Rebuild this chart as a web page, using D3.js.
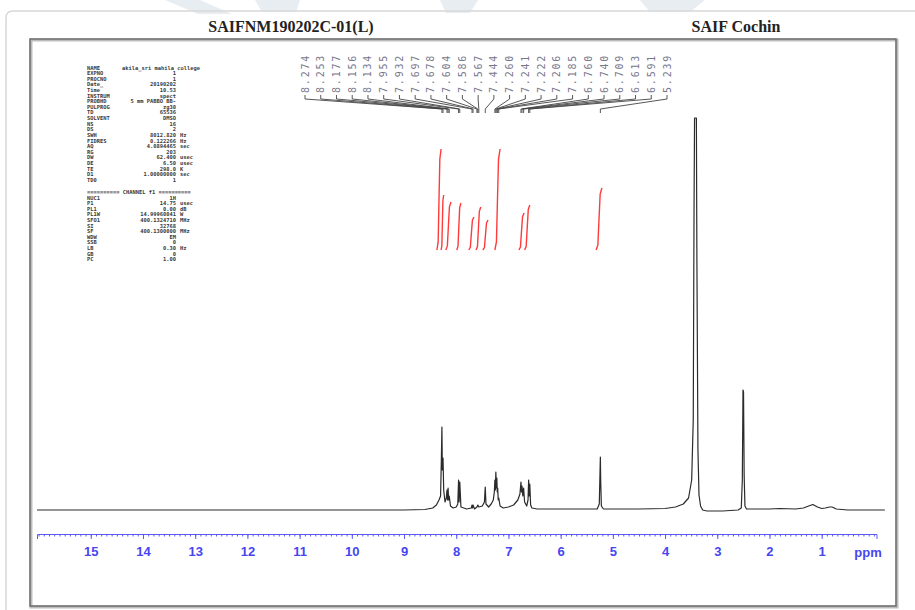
<!DOCTYPE html>
<html>
<head>
<meta charset="utf-8">
<script src="https://cdn.jsdelivr.net/npm/d3@7"></script>
<style>
  body { margin: 0; background: #fff; }
  svg { display: block; }
  .title { font-family: 'Liberation Serif', 'Times New Roman', serif; font-weight: bold; font-size: 16px; fill: #222; }
  .ppm-axis text { font-family: 'Liberation Sans', Arial, sans-serif; font-weight: bold; font-size: 13px; fill: #4646f0; }
  .ppm-axis line, .ppm-axis path { stroke: #5a5af5; }
  .peak-label { font-family: 'DejaVu Sans Mono', monospace; font-size: 10px; fill: #77778a; letter-spacing: 1.8px; }
  .param { font-family: 'DejaVu Sans Mono', monospace; font-size: 5.4px; fill: #3a3a3a; font-weight: bold; }
</style>
</head>
<body>
<div class="nmr-container"></div>
<script>
//Data
//peak pick labels (ppm)
const peakLabels = [8.274, 8.253, 8.177, 8.156, 8.134, 7.955, 7.932, 7.697, 7.678, 7.604, 7.586, 7.567,
                    7.444, 7.260, 7.241, 7.222, 7.206, 7.185, 6.760, 6.740, 6.709, 6.613, 6.591, 5.239];

//spectrum trace: [ppm, intensity]
const tracePpm = [16.03, 12.0, 9.0, 8.6, 8.45, 8.38, 8.33, 8.30, 8.285, 8.274, 8.266, 8.253, 8.24, 8.215, 8.19, 8.177,
                  8.166, 8.156, 8.145, 8.134, 8.11, 8.06, 8.0, 7.97, 7.955, 7.945, 7.932, 7.91, 7.80, 7.71, 7.697, 7.688,
                  7.678, 7.65, 7.604, 7.586, 7.567, 7.50, 7.46, 7.444, 7.43, 7.38, 7.33, 7.29, 7.27, 7.260, 7.25, 7.241,
                  7.232, 7.222, 7.214, 7.206, 7.195, 7.185, 7.16, 7.10, 7.0, 6.9, 6.82, 6.78, 6.760, 6.75, 6.740, 6.725,
                  6.709, 6.69, 6.65, 6.625, 6.613, 6.602, 6.591, 6.575, 6.55, 6.45, 6.2, 5.6, 5.30, 5.26, 5.245, 5.239,
                  5.233, 5.22, 5.18, 4.5, 4.0, 3.8, 3.65, 3.55, 3.49, 3.46, 3.445, 3.435, 3.40, 3.39, 3.37, 3.35,
                  3.32, 3.28, 3.2, 2.9, 2.6, 2.54, 2.52, 2.507, 2.497, 2.485, 2.47, 2.44, 2.0, 1.8, 1.5, 1.35,
                  1.25, 1.17, 1.08, 1.0, 0.93, 0.85, 0.80, 0.72, 0.5, -0.21];
const traceInt = [0, 0, 0, 0.5, 2, 5, 10, 14, 50, 83, 40, 52, 20, 8, 12, 20,
                  10, 22, 10, 14, 4, 2, 3, 6, 30, 8, 28, 3, 1, 2, 5, 2,
                  5, 1, 3, 5, 3, 4, 8, 23, 6, 3, 6, 10, 18, 30, 20, 38,
                  22, 32, 18, 22, 10, 12, 4, 2, 3, 5, 10, 16, 28, 18, 24, 14,
                  22, 8, 4, 10, 30, 14, 26, 5, 2, 1, 1, 1, 1, 6, 40, 53,
                  30, 4, 1, 1, 1.5, 3, 6, 12, 30, 90, 300, 392, 392, 250, 60, 15,
                  4, 0, -1, -1, 0, 2, 30, 120, 118, 35, 4, 1, 1, 1.5, 1, 2,
                  4, 5.5, 3, 1.5, 2, 3, 3, 1, 0, 0];

//integral curves: start ppm, end ppm, height
const integralStart = [8.37, 8.29, 8.20, 7.99, 7.76, 7.62, 7.49, 7.26, 6.80, 6.69, 5.32];
const integralEnd   = [8.29, 8.24, 8.10, 7.91, 7.66, 7.53, 7.39, 7.16, 6.70, 6.59, 5.21];
const integralH     = [101, 55, 48, 47, 33, 43, 30, 101, 37, 45, 62];

//axis ticks
const majorTicks = d3.range(1, 16);
const minorTicks = d3.range(0, 161).map(d => d / 10).filter(d => d <= 16.03);

//acquisition parameters (top-left block)
const paramNames = ['NAME', 'EXPNO', 'PROCNO', 'Date_', 'Time', 'INSTRUM', 'PROBHD', 'PULPROG', 'TD', 'SOLVENT',
                    'NS', 'DS', 'SWH', 'FIDRES', 'AQ', 'RG', 'DW', 'DE', 'TE', 'D1', 'TD0'];
const paramValues = ['', '1', '1', '20190202', '10.53', 'spect', '5 mm PABBO BB-', 'zg30', '65536', 'DMSO',
                     '16', '2', '8012.820', '0.122266', '4.0894465', '203', '62.400', '6.50', '298.0', '1.00000000', '1'];
const paramUnits = ['', '', '', '', '', '', '', '', '', '',
                    '', '', 'Hz', 'Hz', 'sec', '', 'usec', 'usec', 'K', 'sec', ''];
const channelNames = ['NUC1', 'P1', 'PL1', 'PL1W', 'SFO1', 'SI', 'SF', 'WDW', 'SSB', 'LB', 'GB', 'PC'];
const channelValues = ['1H', '14.75', '0.00', '14.99960041', '400.1324710', '32768', '400.1300000', 'EM', '0', '0.30', '0', '1.00'];
const channelUnits = ['', 'usec', 'dB', 'W', 'MHz', '', 'MHz', '', '', 'Hz', '', ''];
const sampleName = 'akila_sri mahila college';

function setupCanvas(){
    const svg_width = 915;
    const svg_height = 610;

    const svg = d3.select('.nmr-container').append('svg')
        .attr('width', svg_width).attr('height', svg_height);

    //faint watermark pieces at the top edge
    const wm = svg.append('g').style('fill', '#e8edf1');
    wm.append('path').attr('d', 'M165,0 L200,0 L232,14 L198,14 Z');
    wm.append('path').attr('d', 'M255,0 L300,0 L296,12 L262,12 Z');
    wm.append('path').attr('d', 'M440,0 L478,0 L470,13 L446,13 Z');
    wm.append('path').attr('d', 'M640,0 L705,0 L690,12 L650,12 Z');

    //page frame
    svg.append('path')
        .attr('d', 'M6,610 V18 Q6,11 13,11 H915')
        .style('fill', 'none').style('stroke', '#d8d8d8').style('stroke-width', 1.5);

    //headers
    svg.append('text').attr('class', 'title').attr('x', 291).attr('y', 32)
        .attr('text-anchor', 'middle').text('SAIFNM190202C-01(L)');
    svg.append('text').attr('class', 'title').attr('x', 736).attr('y', 32)
        .attr('text-anchor', 'middle').text('SAIF Cochin');

    //plot box
    svg.append('rect').attr('x', 31).attr('y', 40).attr('width', 866).attr('height', 567)
        .style('fill', 'none').style('stroke', '#bdbdbd').style('stroke-width', 3);
    svg.append('rect').attr('x', 30).attr('y', 39).attr('width', 866).attr('height', 567)
        .style('fill', 'none').style('stroke', '#6e6e6e').style('stroke-width', 1.5);

    //scales
    const xScale = d3.scaleLinear().domain([16.03, -0.05]).range([37, 876.5]);
    const yScale = d3.scaleLinear().domain([0, 400]).range([510, 110]);
    const iScale = d3.scaleLinear().domain([0, 100]).range([250, 150]);

    //axis: minor ticks every 0.1 ppm, then labelled integers
    const minorAxis = d3.axisBottom(xScale)
        .tickValues(minorTicks)
        .tickFormat('')
        .tickSizeInner(2.5)
        .tickSizeOuter(5);
    svg.append('g').attr('class', 'ppm-axis').attr('transform', 'translate(0,534)').call(minorAxis);

    const majorAxis = d3.axisBottom(xScale)
        .tickValues(majorTicks)
        .tickFormat(d3.format('d'))
        .tickSizeInner(5)
        .tickSizeOuter(0)
        .tickPadding(8);
    const axisDraw = svg.append('g').attr('class', 'ppm-axis').attr('transform', 'translate(0,534)').call(majorAxis);
    axisDraw.select('.domain').remove();
    svg.append('text').attr('class', 'ppm-axis')
        .attr('x', 868).attr('y', 557).attr('text-anchor', 'middle')
        .style('font-family', "'Liberation Sans', Arial, sans-serif").style('font-weight', 'bold')
        .style('font-size', '13px').style('fill', '#4646f0')
        .text('ppm');

    //spectrum
    const trace = tracePpm.map((p, i) => [p, traceInt[i]]);
    const line = d3.line().x(d => xScale(d[0])).y(d => yScale(d[1]));
    svg.append('path').datum(trace)
        .attr('d', line)
        .style('fill', 'none').style('stroke', '#2b2b2b').style('stroke-width', 1.2)
        .style('stroke-linejoin', 'round');

    //integrals
    const iLine = d3.line().x(d => xScale(d[0])).y(d => iScale(d[1]));
    integralStart.forEach((s, i) => {
        const e = integralEnd[i];
        const h = integralH[i];
        const pts = [[s, 0], [s + (e - s) * 0.3, h * 0.08], [s + (e - s) * 0.5, h * 0.5],
                     [s + (e - s) * 0.7, h * 0.9], [e, h]];
        svg.append('path').datum(pts).attr('d', iLine)
            .style('fill', 'none').style('stroke', '#ff3b3b').style('stroke-width', 1.4);
    });

    //peak labels with leader lines
    const labelX = d3.scalePoint().domain(d3.range(peakLabels.length)).range([305, 667]);
    const labels = svg.append('g').attr('class', 'peak-labels');
    labels.selectAll('.peak-label')
        .data(peakLabels)
        .enter()
        .append('text')
        .attr('class', 'peak-label')
        .attr('transform', (d, i) => `translate(${labelX(i) + 3.5},93) rotate(-90)`)
        .text(d => d3.format('.3f')(d));
    labels.selectAll('.leader')
        .data(peakLabels)
        .enter()
        .append('path')
        .attr('class', 'leader')
        .attr('d', (d, i) => `M${labelX(i)},95 V99 L${xScale(d)},109 V113`)
        .style('fill', 'none').style('stroke', '#444').style('stroke-width', 0.9);

    //parameter block
    const params = svg.append('g').attr('class', 'params');
    const rowY = i => 69.5 + i * 5.62;
    paramNames.forEach((n, i) => {
        params.append('text').attr('class', 'param').attr('x', 87).attr('y', rowY(i)).text(n);
        params.append('text').attr('class', 'param').attr('x', 176).attr('y', rowY(i))
            .attr('text-anchor', 'end').text(paramValues[i]);
        params.append('text').attr('class', 'param').attr('x', 180).attr('y', rowY(i)).text(paramUnits[i]);
    });
    params.append('text').attr('class', 'param').attr('x', 122).attr('y', rowY(0)).text(sampleName);
    params.append('text').attr('class', 'param').attr('x', 87).attr('y', 193.5)
        .text('========== CHANNEL f1 ==========');
    const chY = i => 199.5 + i * 5.62;
    channelNames.forEach((n, i) => {
        params.append('text').attr('class', 'param').attr('x', 87).attr('y', chY(i)).text(n);
        params.append('text').attr('class', 'param').attr('x', 176).attr('y', chY(i))
            .attr('text-anchor', 'end').text(channelValues[i]);
        params.append('text').attr('class', 'param').attr('x', 180).attr('y', chY(i)).text(channelUnits[i]);
    });
}

setupCanvas();
</script>
</body>
</html>
